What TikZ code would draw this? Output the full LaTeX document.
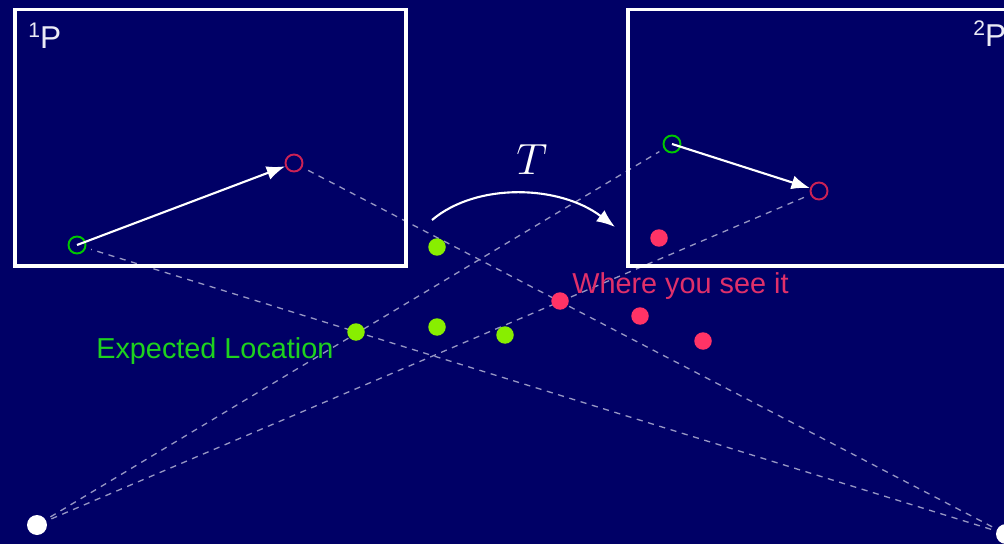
\documentclass[tikz,border=0pt]{standalone}
\usepackage{fontspec}
\setmainfont{Liberation Sans}
\usetikzlibrary{arrows.meta}
\definecolor{bg}{RGB}{0,0,102}
\definecolor{lime}{RGB}{136,238,0}
\definecolor{ogreen}{RGB}{0,200,0}
\definecolor{pinkred}{RGB}{255,51,102}
\definecolor{ored}{RGB}{204,34,85}
\definecolor{dashc}{RGB}{150,150,195}
\definecolor{txtred}{RGB}{224,48,106}
\definecolor{txtgreen}{RGB}{30,210,30}
\definecolor{txtwhite}{RGB}{235,235,245}
\begin{document}
\begin{tikzpicture}[x=0.02cm,y=-0.02cm,
  frame/.style={draw=white, line width=2.1pt},
  ring/.style={circle, draw, line width=1.1pt, minimum size=0.34cm, inner sep=0pt},
  dot/.style={circle, fill, inner sep=0pt, minimum size=0.35cm},
  ray/.style={dashc, line width=0.75pt, dash pattern=on 3.5pt off 3.2pt, shorten <=3pt, shorten >=3pt},
  vec/.style={white, line width=1.2pt, -{Latex[length=10.5pt,width=8pt]}},
  lbl/.style={font=\fontsize{16.4}{18}\selectfont, inner sep=0pt, anchor=base west}
]
\fill[bg] (0,0) rectangle (1004,544);
\useasboundingbox (0,0) rectangle (1004,544);
\clip (0,0) rectangle (1004,544);

% camera points and image points
\node[ring, draw=ogreen] (g1) at (77,245) {};
\node[ring, draw=ored] (r1) at (294,163) {};
\node[ring, draw=ogreen] (g2) at (672,144) {};
\node[ring, draw=ored] (r2) at (819,191) {};
\node[dot, fill=white, minimum size=0.4cm] (w1) at (37,525) {};
\node[dot, fill=white, minimum size=0.4cm] (w2) at (1006,534) {};

% rays
\draw[ray] (w1) -- (g2);
\draw[ray] (w1) -- (r2);
\draw[ray] (w2) -- (g1);
\draw[ray] (w2) -- (r1);

% frames
\draw[frame] (15,9.5) rectangle (406,266);
\draw[frame] (628,9.5) rectangle (1030,266);

% vectors
\draw[vec] (g1.center) -- (r1);
\draw[vec] (g2.center) -- (r2);

% transform arrow
\coordinate (Ts) at (432,220);
\coordinate (Te) at (615,227);
\draw[vec] (Ts) .. controls +(45,-38) and +(-55,-42) .. (Te);
\node[white, font=\fontsize{30}{36}\selectfont, inner sep=0pt] (T) at (532,160) {$T$};

% expected locations
\node[dot, fill=lime] (e1) at (437,247) {};
\node[dot, fill=lime] (e2) at (356,332) {};
\node[dot, fill=lime] (e3) at (437,327) {};
\node[dot, fill=lime] (e4) at (505,335) {};
% seen locations
\node[dot, fill=pinkred] (s1) at (659,238) {};
\node[dot, fill=pinkred] (s2) at (560,301) {};
\node[dot, fill=pinkred] (s3) at (640,316) {};
\node[dot, fill=pinkred] (s4) at (703,341) {};

% labels
\node[lbl, text=txtgreen] (explbl) at (96,358) {Expected Location};
\node[lbl, text=txtred] (seelbl) at (572,293) {Where you see it};
\node[lbl, text=txtwhite, font=\fontsize{18}{20}\selectfont] (p1) at (28,49) {\raisebox{6.8pt}{\fontsize{12}{12}\selectfont 1}P};
\node[lbl, text=txtwhite, font=\fontsize{18}{20}\selectfont] (p2) at (973,47) {\raisebox{6.8pt}{\fontsize{12}{12}\selectfont 2}P};
\end{tikzpicture}
\end{document}
